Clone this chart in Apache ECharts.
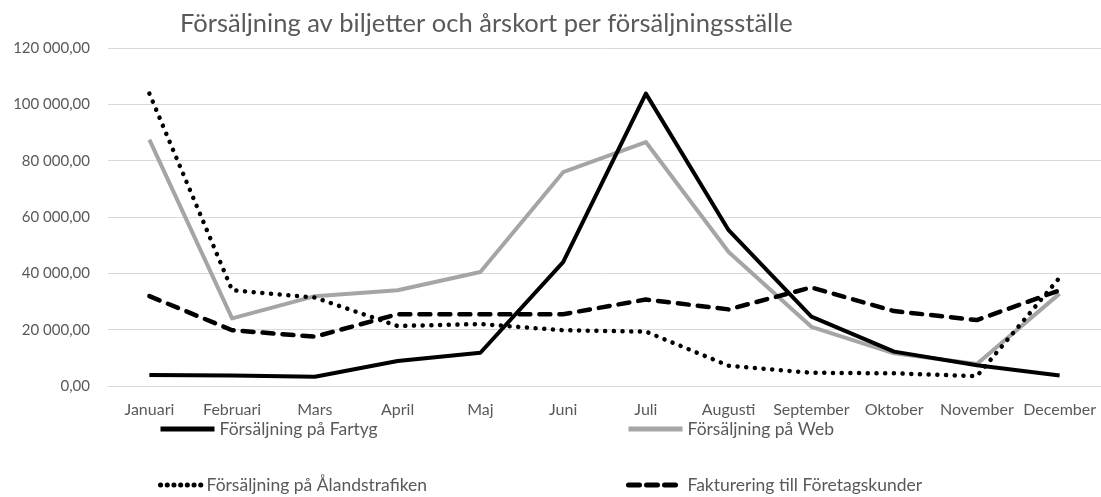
<!DOCTYPE html>
<html><head><meta charset="utf-8">
<script src="https://cdn.jsdelivr.net/npm/echarts@6/dist/echarts.min.js"></script>
<style>html,body{margin:0;padding:0;background:#fff}#c{width:1101px;height:497px}</style>
</head><body><div id="c"></div>
<script>
const categories = ['Januari','Februari','Mars','April','Maj','Juni','Juli','Augusti','September','Oktober','November','December'];
const fartyg = [3900, 3700, 3300, 8900, 11800, 44000, 103800, 55300, 24600, 12200, 7400, 3700];
const web = [87500, 24000, 31900, 34000, 40500, 75900, 86600, 47600, 21000, 11600, 7800, 32800];
const alandstrafiken = [103800, 34000, 31400, 21300, 22000, 19800, 19300, 7200, 4700, 4500, 3500, 38500];
const foretagskunder = [31900, 19800, 17500, 25500, 25500, 25500, 30700, 27200, 35000, 26600, 23400, 34000];
const seriesNames = ['Försäljning på Fartyg','Försäljning på Web','Försäljning på Ålandstrafiken','Fakturering till Företagskunder'];
const titleText = 'Försäljning av biljetter och årskort per försäljningsställe';

const FONT = 'Lato, "Open Sans", sans-serif';
const TXT = '#595959';
function fmt(v){
  const s = Math.round(v).toString().replace(/\B(?=(\d{3})+(?!\d))/g, ' ');
  return s + ',00';
}
const chart = echarts.init(document.getElementById('c'));
const styles = [
  {color:'#000000', width:4, type:'solid', cap:'butt', ltype:'solid'},
  {color:'#A5A5A5', width:4, type:'solid', cap:'butt', ltype:'solid'},
  {color:'#000000', width:4.5, type:[0.1, 8.6], cap:'round', ltype:[0.1, 6.6]},
  {color:'#000000', width:4.5, type:[11, 9], cap:'round', ltype:[11, 7]}
];
const datas = [fartyg, web, alandstrafiken, foretagskunder];
const legendPos = [
  {left:158, top:420, w:54},
  {left:626, top:420, w:54},
  {left:158, top:476, w:41},
  {left:626, top:476, w:54}
];
chart.setOption({
  animation:false,
  title:{text:titleText, left:180, top:11, padding:0, textStyle:{fontFamily:FONT, fontWeight:'normal', fontSize:25.5, color:TXT}},
  grid:{left:108, top:48, width:998, height:338, containLabel:false},
  xAxis:{type:'category', data:categories, boundaryGap:true,
    axisLine:{show:true, lineStyle:{color:'#D9D9D9', width:1}}, axisTick:{show:false},
    axisLabel:{color:TXT, fontFamily:FONT, fontSize:16, margin:16, interval:0}},
  yAxis:{type:'value', min:0, max:120000, interval:20000,
    axisLine:{show:false}, axisTick:{show:false},
    splitLine:{lineStyle:{color:'#D9D9D9', width:1}},
    axisLabel:{color:TXT, fontFamily:FONT, fontSize:15, margin:18, formatter:fmt}},
  legend: seriesNames.map((n,i)=>({
    data:[n], left:legendPos[i].left, top:legendPos[i].top, orient:'horizontal',
    itemWidth:legendPos[i].w, itemHeight:18, itemGap:0, padding:0, itemTextGap:4,
    itemStyle:{color:'rgba(0,0,0,0)', borderWidth:0, opacity:0},
    lineStyle:{width:5, color:styles[i].color, type:styles[i].ltype, cap:styles[i].cap},
    textStyle:{color:TXT, fontFamily:FONT, fontSize:17.5}
  })),
  series: seriesNames.map((n,i)=>({
    name:n, type:'line', data:datas[i], symbol:'none', smooth:false,
    lineStyle:{color:styles[i].color, width:styles[i].width, type:styles[i].type, cap:styles[i].cap, join:'round'},
    itemStyle:{color:styles[i].color},
    z: i===1 ? 2 : 3
  }))
});
</script></body></html>
